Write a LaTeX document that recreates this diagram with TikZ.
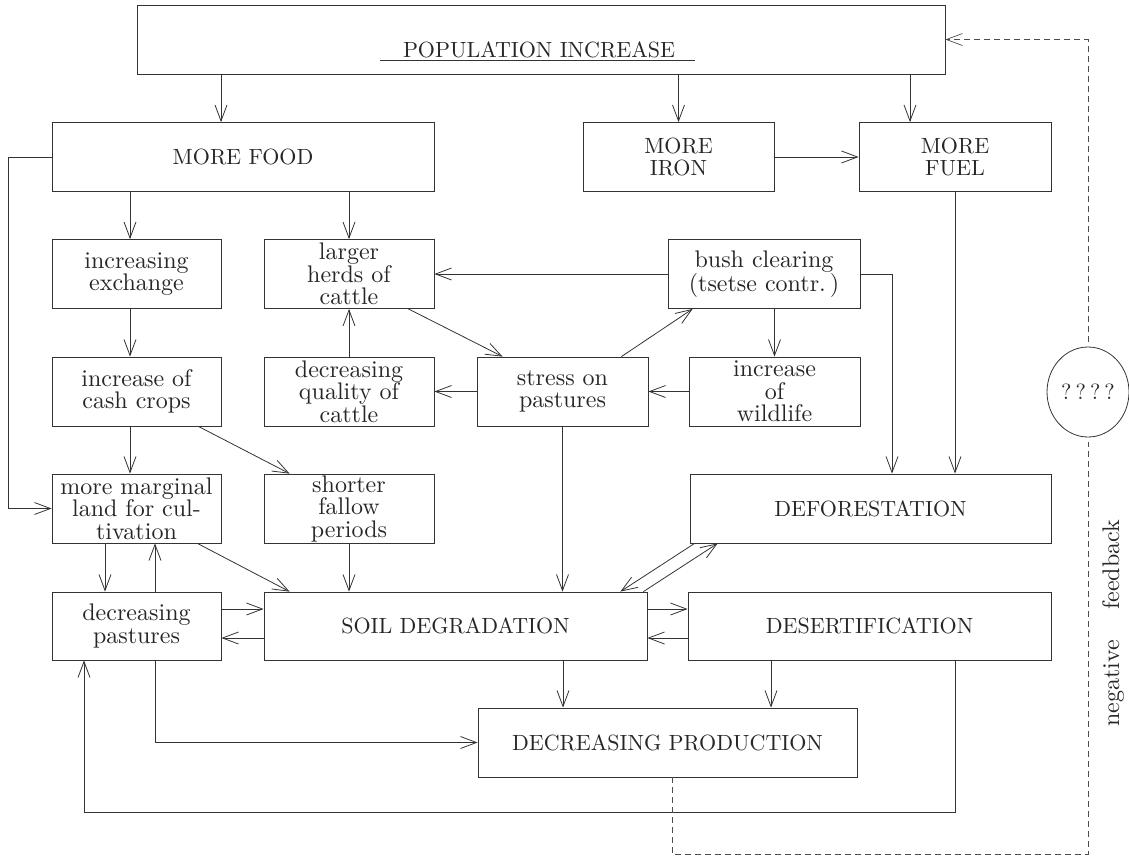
\documentclass[tikz,border=0pt]{standalone}
\usepackage{fontspec}
\setmainfont{lmroman10-regular}[Extension=.otf]
\usetikzlibrary{arrows.meta,shapes.geometric}
\newcommand\lcfont{\fontsize{24}{22.5}\selectfont}
\newcommand\capfont{\fontsize{22}{22}\selectfont}
\begin{document}
\begin{tikzpicture}[x=1pt,y=-1pt,
  ln/.style={draw=black!80,line width=0.8pt},
  arr/.style={ln,-{Straight Barb[length=16pt,width=12pt]}},
  dsh/.style={draw=black!70,line width=0.7pt,dash pattern=on 6pt off 4pt},
  dsharr/.style={dsh,-{Straight Barb[length=16pt,width=12pt]}},
  box/.style={ln,rectangle,inner sep=0pt,text=black!85,align=center},
  lbox/.style={box,font=\lcfont,minimum width=169pt,minimum height=69pt},
  cbox/.style={box,font=\capfont,minimum height=69pt},
  txt/.style={text=black!85,inner sep=0pt}]
\useasboundingbox (0,0) rectangle (1129,857);

% helper x positions
\coordinate (x8) at (8,0);
\coordinate (x84) at (84,0);
\coordinate (x105) at (105,0);
\coordinate (x130) at (130,0);
\coordinate (x155) at (155,0);
\coordinate (x221) at (221,0);
\coordinate (x563) at (563,0);
\coordinate (x672) at (672,0);
\coordinate (x771) at (771,0);
\coordinate (x892) at (892,0);
\coordinate (x910) at (910,0);
\coordinate (x955) at (955,0);
\coordinate (bot) at (84,812);
\coordinate (dc) at (1088,854);

% nodes
\node[cbox,minimum width=808pt] (pop) at (541,39.5) {};
\node[txt,font=\capfont,anchor=base] (poptxt) at (539,57) {POPULATION INCREASE};
\draw[ln] (380,60) -- (695,60);

\node[cbox,minimum width=382pt] (food) at (243,157) {MORE FOOD};
\node[cbox,minimum width=191pt] (iron) at (678.5,157) {MORE\\IRON};
\node[cbox,minimum width=192pt] (fuel) at (955,157) {MORE\\FUEL};

\node[lbox] (exch) at (136.5,274) {increasing\\exchange};
\node[lbox,minimum width=170pt] (herds) at (349,274) {larger\\herds of\\cattle};
\node[lbox,minimum width=192pt] (bush) at (764,274) {bush clearing\\(tsetse contr.\,)};

\node[lbox] (cash) at (136.5,391.5) {increase of\\cash crops};
\node[lbox,minimum width=170pt] (qual) at (349,391.5) {decreasing\\quality of\\cattle};
\node[lbox,minimum width=171pt] (stress) at (562.5,391.5) {stress on\\pastures};
\node[lbox,minimum width=171pt] (wild) at (774.5,391.5) {increase\\of\\wildlife};

\node[lbox] (marg) at (136.5,508.5) {more marginal\\land for cul-\\tivation};
\node[lbox,minimum width=170pt] (short) at (349,508.5) {shorter\\fallow\\periods};
\node[cbox,minimum width=361pt] (defor) at (870.5,508.5) {DEFORESTATION};

\node[lbox,minimum height=68pt] (past) at (136.5,626) {decreasing\\pastures};
\node[cbox,minimum width=383pt,minimum height=68pt] (soil) at (455.5,626) {SOIL DEGRADATION};
\node[cbox,minimum width=363pt,minimum height=68pt] (desert) at (869.5,626) {DESERTIFICATION};

\node[cbox,minimum width=379pt] (dprod) at (667.5,742.5) {DECREASING PRODUCTION};

\node[ln,ellipse,minimum width=82pt,minimum height=90pt,inner sep=0pt,text=black!85,font=\fontsize{22}{22}\selectfont] (q) at (1088,392) {?\hspace{4pt}?\hspace{4pt}?\hspace{4pt}?};
\node[txt,font=\fontsize{24}{24}\selectfont,rotate=90] (nf) at (1113,623) {negative\hspace{30pt}feedback};

% connectors
\draw[arr] (pop.south -| x221) -- (food.north -| x221);
\draw[arr] (pop.south -| iron.north) -- (iron.north);
\draw[arr] (pop.south -| x910) -- (fuel.north -| x910);
\draw[arr] (iron.east) -- (fuel.west);
\draw[arr] (food.south -| x130) -- (exch.north -| x130);
\draw[arr] (food.south -| herds.north) -- (herds.north);
\draw[arr] (food.west) -- (food.west -| x8) |- (marg.west);
\draw[arr] (exch.south -| x130) -- (cash.north -| x130);
\draw[arr] (cash.south -| x130) -- (marg.north -| x130);
\draw[arr] ([xshift=-23pt]cash.south east) -- ([xshift=26pt]short.north west);
\draw[arr] ([xshift=-26pt]herds.south east) -- ([xshift=26pt]stress.north west);
\draw[arr] (bush.west) -- (herds.east);
\draw[arr] (bush.south -| wild.north) -- (wild.north);
\draw[arr] ([xshift=-27pt]stress.north east) -- ([xshift=25pt]bush.south west);
\draw[arr] (wild.west) -- (stress.east);
\draw[arr] (stress.west) -- (qual.east);
\draw[arr] (qual.north) -- (herds.south);
\draw[arr] (bush.east) -| (x892 |- defor.north);
\draw[arr] (fuel.south) -- (fuel.south |- defor.north);
\draw[arr] (marg.south -| x105) -- (past.north -| x105);
\draw[arr] (past.north -| x155) -- (marg.south -| x155);
\draw[arr] ([xshift=-24pt]marg.south east) -- ([xshift=26pt]soil.north west);
\draw[arr] (short.south) -- (short.south |- soil.north);
\draw[arr] (stress.south) -- (stress.south |- soil.north);
\draw[arr] ([xshift=5pt]defor.south west) -- ([xshift=-27pt]soil.north east);
\draw[arr] ([xshift=-4pt]soil.north east) -- ([xshift=28pt]defor.south west);
\draw[arr] ([yshift=17pt]past.east) -- ([yshift=17pt]soil.west);
\draw[arr] ([yshift=-12pt]soil.west) -- ([yshift=-12pt]past.east);
\draw[arr] ([yshift=17pt]soil.east) -- ([yshift=17pt]desert.west);
\draw[arr] ([yshift=-12pt]desert.west) -- ([yshift=-12pt]soil.east);
\draw[arr] (soil.south -| x563) -- (dprod.north -| x563);
\draw[arr] (desert.south -| x771) -- (dprod.north -| x771);
\draw[arr] (past.south -| x155) |- (dprod.west);
\draw[arr] (desert.south -| x955) |- (bot) -- (bot |- past.south);
\draw[dsh] (dprod.south -| x672) |- (dc) -- ([yshift=-5pt]q.south);
\draw[dsharr] ([yshift=5pt]q.north) |- (pop.east);
\end{tikzpicture}
\end{document}
